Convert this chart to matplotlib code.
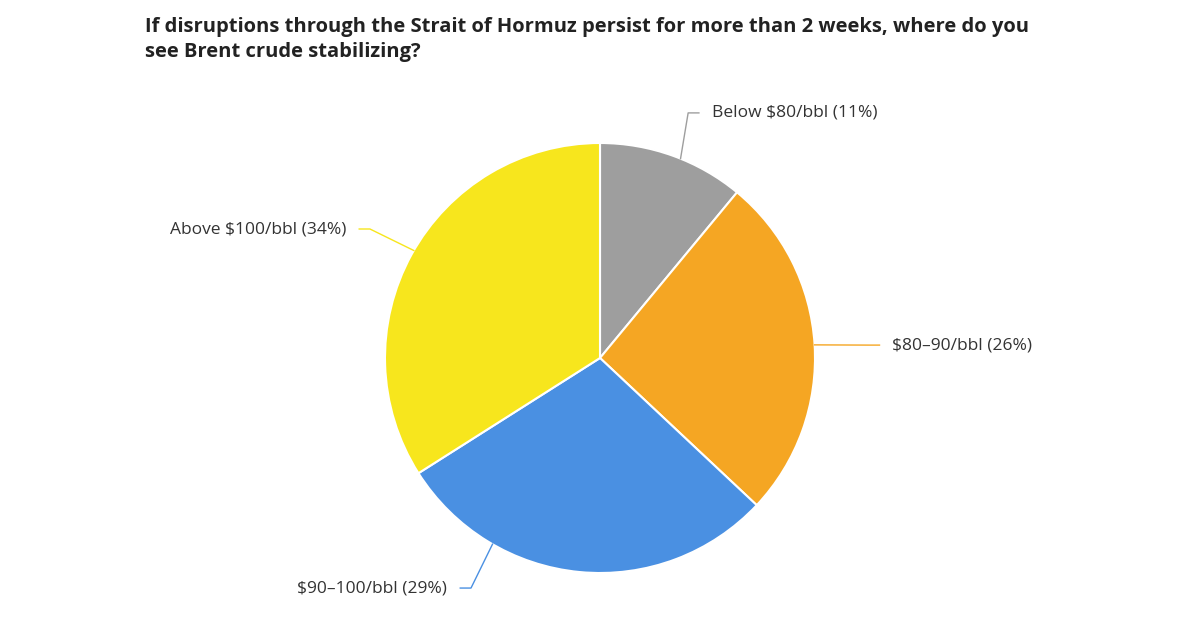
import numpy as np
import matplotlib.pyplot as plt

labels = ['Below $80/bbl', '$80–90/bbl', '$90–100/bbl', 'Above $100/bbl']
shares = [11, 26, 29, 34]
colors = ['#9e9e9e', '#f5a623', '#4a90e2', '#f7e61d']
# where each leader line leaves the pie (deg) and where its label sits (pie units)
edge_angles = [68, 3.5, -120, 150]
elbows = [(0.41, 1.14), (1.25, 0.06), (-0.60, -1.07), (-1.07, 0.60)]
text_side = ['left', 'left', 'right', 'right']

fig = plt.figure(figsize=(12, 6.3), dpi=100)
fig.patch.set_facecolor('white')
plt.rcParams['font.family'] = ['Open Sans', 'DejaVu Sans']

fig.text(145 / 1200, 1 - 17 / 630,
         'If disruptions through the Strait of Hormuz persist for more than 2 weeks, where do you\nsee Brent crude stabilizing?',
         fontsize=14.5, fontweight='bold', color='#222222', va='top', ha='left', linespacing=1.3)

ax = fig.add_axes([(600 - 215) / 1200, (630 - 358 - 215) / 630, 430 / 1200, 430 / 630])
ax.pie(shares, colors=colors, startangle=90, counterclock=False,
       wedgeprops=dict(edgecolor='white', linewidth=1.5))
ax.set_xlim(-1, 1)
ax.set_ylim(-1, 1)
ax.set_aspect('equal')
ax.axis('off')

for lab, val, col, ang, (ex, ey), side in zip(labels, shares, colors, edge_angles, elbows, text_side):
    a = np.deg2rad(ang)
    sx, sy = np.cos(a), np.sin(a)
    dx = 0.05 if side == 'left' else -0.05
    ax.plot([sx, ex, ex + dx], [sy, ey, ey], color=col, lw=1, clip_on=False)
    ax.text(ex + dx * 2.2, ey, f'{lab} ({val}%)', ha=side, va='center',
            fontsize=12.5, color='#333333', clip_on=False)

fig.savefig('out.png', dpi=100, facecolor='white')
